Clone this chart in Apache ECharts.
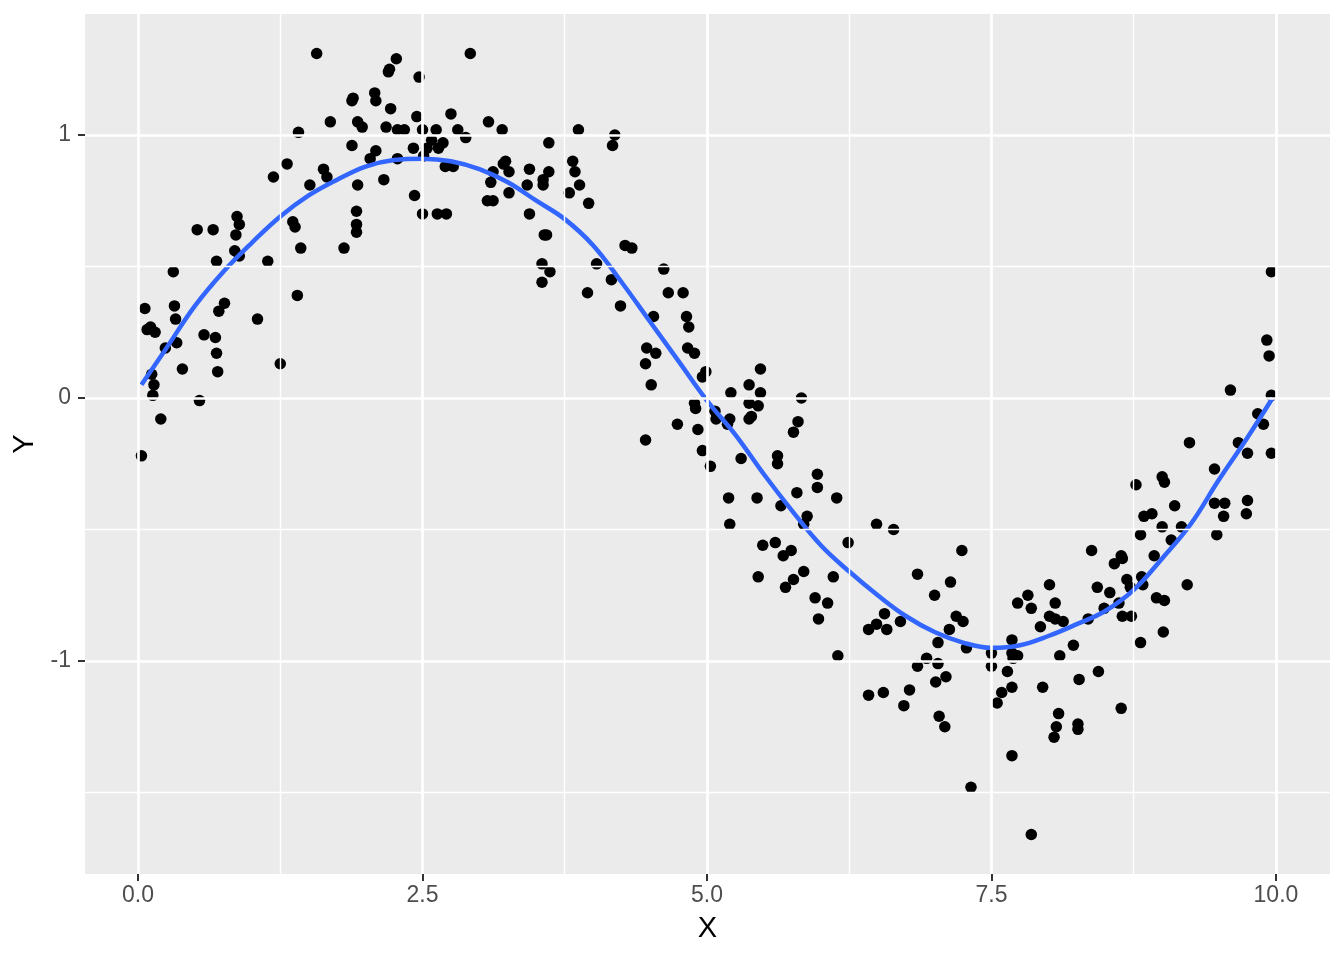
<!DOCTYPE html>
<html><head><meta charset="utf-8">
<script src="https://cdn.jsdelivr.net/npm/echarts@6/dist/echarts.min.js"></script>
<style>html,body{margin:0;padding:0;background:#fff}#c{width:1344px;height:960px}</style>
</head><body><div id="c"></div>
<script>
const pointX = [
0.03,0.06,0.08,0.11,0.15,0.12,0.14,0.13,0.20,0.24,0.31,0.32,0.33,0.34,0.39,0.52,0.54,0.58,0.66,0.69,0.68,0.69,0.71,0.70,0.76,0.85,0.87,0.89,0.86,0.89,1.05,
1.14,1.25,1.31,1.19,1.41,1.36,1.38,1.43,1.40,1.51,1.57,1.63,1.66,1.69,
1.81,1.88,1.89,1.88,1.92,1.92,1.92,1.93,1.93,1.97,2.04,2.08,2.09,2.09,2.16,2.18,2.20,2.21,2.22,2.27,2.28,2.28,2.34,2.42,2.43,2.45,2.47,2.50,2.50,2.51,2.54,2.58,2.62,2.63,2.64,2.68,2.70,2.71,2.75,2.77,2.81,2.88,2.92,3.07,3.08,3.10,3.12,3.12,3.20,3.21,3.23,3.26,3.26,
3.42,3.44,3.44,3.56,3.56,3.55,3.55,3.57,3.59,3.61,3.61,3.62,3.79,3.82,3.84,3.87,3.88,3.95,3.96,4.03,4.16,4.17,4.19,4.24,4.28,4.34,4.46,4.46,4.47,4.51,4.53,4.55,4.62,4.66,4.74,4.79,4.82,4.84,4.83,4.89,4.89,4.90,4.92,4.96,4.96,4.99,
5.03,5.07,5.08,5.18,5.19,5.20,5.20,5.21,5.30,5.37,5.37,5.37,5.39,5.44,5.45,5.45,5.47,5.47,5.49,5.60,5.62,5.62,5.65,5.67,5.69,5.74,5.76,5.76,5.79,5.80,5.83,5.85,5.85,5.88,5.95,5.97,5.97,5.98,6.06,6.11,6.14,6.15,6.24,
6.42,6.42,6.49,6.49,6.55,6.56,6.58,6.64,6.70,6.73,6.78,6.85,6.85,6.93,7.00,7.01,7.03,7.03,7.04,7.09,7.10,7.13,7.14,7.19,7.24,7.25,7.28,7.32,7.50,7.50,7.55,7.59,7.64,7.68,7.68,7.68,7.68,7.69,7.73,7.73,7.82,7.85,7.85,7.93,7.95,
8.01,8.01,8.05,8.06,8.06,8.07,8.09,8.10,8.13,8.22,8.26,8.26,8.27,8.35,8.38,8.43,8.44,8.49,8.54,8.58,8.62,8.64,8.64,8.65,8.65,8.69,8.72,8.73,8.77,8.81,8.81,8.82,8.83,8.84,8.91,8.93,8.95,9.00,9.00,9.01,9.02,9.02,9.08,9.11,9.17,9.22,9.24,9.46,9.46,9.48,9.54,9.55,9.60,9.67,9.74,9.75,9.75,9.84,9.89,9.92,9.94,9.96,9.96,9.96
];
const pointY = [
-0.22,0.34,0.26,0.27,0.25,0.09,0.05,0.01,-0.08,0.19,0.48,0.35,0.30,0.21,0.11,0.64,-0.01,0.24,0.64,0.52,0.23,0.17,0.33,0.10,0.36,0.56,0.69,0.66,0.62,0.54,0.30,
0.52,0.13,0.89,0.84,1.01,0.67,0.65,0.57,0.39,0.81,1.31,0.87,0.84,1.05,
0.57,1.13,1.14,0.96,0.71,0.66,0.63,1.05,0.81,1.03,0.91,1.16,1.13,0.94,0.83,1.03,1.24,1.25,1.10,1.29,1.02,0.91,1.02,0.95,0.77,1.07,1.22,1.02,0.70,0.92,0.95,0.98,1.02,0.70,0.95,0.97,0.88,0.70,1.08,0.88,1.02,0.99,1.31,0.75,1.05,0.82,0.86,0.75,1.02,0.89,0.90,0.86,0.78,
0.81,0.87,0.70,0.83,0.81,0.51,0.44,0.62,0.62,0.97,0.86,0.48,0.78,0.90,0.86,1.02,0.81,0.40,0.74,0.51,0.45,0.96,1.00,0.35,0.58,0.57,0.13,-0.16,0.19,0.05,0.31,0.17,0.49,0.40,-0.10,0.40,0.31,0.27,0.19,0.17,-0.02,-0.04,-0.12,0.08,-0.20,0.10,
-0.26,-0.05,-0.08,-0.10,-0.38,-0.08,-0.48,0.02,-0.23,0.05,-0.02,-0.08,-0.07,-0.38,-0.03,-0.68,0.11,0.02,-0.56,-0.55,-0.22,-0.25,-0.41,-0.60,-0.72,-0.58,-0.13,-0.69,-0.36,-0.09,0.00,-0.48,-0.66,-0.45,-0.76,-0.29,-0.34,-0.84,-0.78,-0.68,-0.38,-0.98,-0.55,
-0.88,-1.13,-0.48,-0.86,-1.12,-0.82,-0.88,-0.50,-0.85,-1.17,-1.11,-0.67,-1.02,-0.99,-0.75,-1.08,-0.93,-1.01,-1.21,-1.25,-1.06,-0.88,-0.70,-0.83,-0.58,-0.85,-0.95,-1.48,-0.97,-1.02,-1.16,-1.12,-1.04,-0.92,-0.97,-1.10,-1.36,-0.99,-0.78,-0.98,-0.75,-0.80,-1.66,-0.87,-1.10,
-0.71,-0.83,-1.29,-0.78,-0.84,-1.25,-1.20,-0.98,-0.85,-0.94,-1.24,-1.26,-1.07,-0.84,-0.58,-0.72,-1.04,-0.80,-0.74,-0.63,-0.78,-0.60,-1.18,-0.61,-0.83,-0.69,-0.72,-0.83,-0.33,-0.52,-0.93,-0.68,-0.71,-0.45,-0.44,-0.60,-0.76,-0.30,-0.49,-0.89,-0.32,-0.77,-0.54,-0.41,-0.49,-0.71,-0.17,-0.27,-0.40,-0.52,-0.45,-0.40,0.03,-0.17,-0.44,-0.39,-0.21,-0.06,-0.10,0.22,0.16,0.48,0.01,-0.21
];
const curveX = [0.03,0.25,0.5,0.75,1.0,1.25,1.5,1.75,2.0,2.25,2.5,2.75,3.0,3.25,3.5,3.75,4.0,4.25,4.5,4.75,5.0,5.25,5.5,5.75,6.0,6.25,6.5,6.75,7.0,7.25,7.5,7.75,8.0,8.25,8.5,8.75,9.0,9.25,9.5,9.75,9.97];
const curveY = [0.05,0.19,0.35,0.48,0.59,0.69,0.77,0.83,0.88,0.905,0.91,0.90,0.87,0.82,0.75,0.68,0.58,0.44,0.29,0.14,-0.01,-0.14,-0.29,-0.43,-0.56,-0.66,-0.75,-0.83,-0.89,-0.93,-0.95,-0.94,-0.905,-0.86,-0.81,-0.73,-0.61,-0.48,-0.31,-0.15,0.00];
const xTicks = [0, 2.5, 5, 7.5, 10];
const xMinor = [1.25, 3.75, 6.25, 8.75];
const yTicks = [-1, 0, 1];
const yMinor = [-1.5, -0.5, 0.5];

const font = 'Liberation Sans';
const chart = echarts.init(document.getElementById('c'), null, {renderer: 'canvas'});
const grid = [];
xMinor.forEach(v => grid.push({xAxis: v, lineStyle: {width: 1.4}}));
yMinor.forEach(v => grid.push({yAxis: v, lineStyle: {width: 1.4}}));
xTicks.forEach(v => grid.push({xAxis: v, lineStyle: {width: 2.7}}));
yTicks.forEach(v => grid.push({yAxis: v, lineStyle: {width: 2.7}}));

chart.setOption({
  animation: false,
  backgroundColor: '#ffffff',
  grid: {left: 85, right: 14, top: 14, bottom: 86, show: true, backgroundColor: '#EBEBEB', borderWidth: 0},
  xAxis: {
    type: 'value', min: -0.466, max: 10.475,
    name: 'X', nameLocation: 'middle', nameGap: 40,
    nameTextStyle: {fontFamily: font, fontSize: 29, color: '#000'},
    axisLine: {show: false, onZero: false},
    axisTick: {show: true, customValues: xTicks, length: 7, lineStyle: {color: '#333333', width: 2}},
    axisLabel: {customValues: xTicks, formatter: v => Number(v).toFixed(1), margin: 10, fontFamily: font, fontSize: 23, color: '#4D4D4D'},
    splitLine: {show: false}
  },
  yAxis: {
    type: 'value', min: -1.81, max: 1.46,
    name: 'Y', nameLocation: 'middle', nameGap: 46, nameRotate: 90,
    nameTextStyle: {fontFamily: font, fontSize: 29, color: '#000'},
    axisLine: {show: false, onZero: false},
    axisTick: {show: true, customValues: yTicks, length: 7, lineStyle: {color: '#333333', width: 2}},
    axisLabel: {customValues: yTicks, formatter: v => String(Math.round(v)), margin: 14, fontFamily: font, fontSize: 23, color: '#4D4D4D'},
    splitLine: {show: false}
  },
  series: [
    {
      type: 'line', data: [], z: 1, silent: true,
      markLine: {silent: true, symbol: ['none', 'none'], label: {show: false},
        lineStyle: {color: '#ffffff', type: 'solid'}, emphasis: {disabled: true}, animation: false, data: grid}
    },
    {
      type: 'scatter', z: 3, symbol: 'circle', symbolSize: 11.5,
      itemStyle: {color: '#000000', opacity: 1},
      emphasis: {disabled: true},
      data: pointX.map((x, i) => [x, pointY[i]])
    },
    {
      type: 'line', z: 4, showSymbol: false, smooth: 0.4,
      lineStyle: {color: '#3366FF', width: 4.5},
      emphasis: {disabled: true},
      data: curveX.map((x, i) => [x, curveY[i]])
    }
  ]
});
</script></body></html>
